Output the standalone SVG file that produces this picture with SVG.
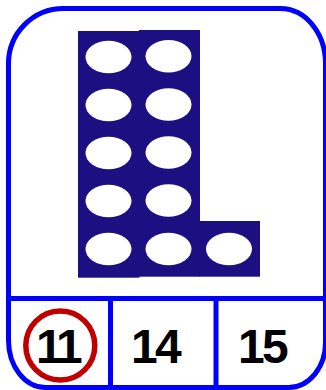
<svg xmlns="http://www.w3.org/2000/svg" width="326" height="390" viewBox="0 0 326 390">
<style>
.frame{fill:none;stroke:#0000ff;stroke-width:5}
.blk{fill:#1b0f82}
.hole{fill:#ffffff}
.num{font-family:"Liberation Sans",Arial,sans-serif;font-weight:bold;font-size:48px;fill:#000000}
</style>
<rect width="326" height="390" fill="#ffffff"/>
<g id="frame">
<path class="frame" d="M8.5,63.5 A55,55 0 0 1 63.5,8.5 L280.5,8.5 A45,55 0 0 1 325.5,63.5 L325.5,342.5 A37,45 0 0 1 288.5,387.5 L45.5,387.5 A37,47 0 0 1 8.5,340.5 Z"/>
<line class="frame" x1="8.5" y1="298.5" x2="325.5" y2="298.5"/>
<line class="frame" x1="110.5" y1="298.5" x2="110.5" y2="388"/>
<line class="frame" x1="216" y1="298.5" x2="216" y2="388"/>
</g>
<g id="blocks">
<rect class="blk" x="78" y="31" width="61.5" height="246.7"/>
<rect class="blk" x="139" y="30" width="61" height="246.7"/>
<rect class="blk" x="199.5" y="221" width="60.5" height="55.7"/>
<ellipse class="hole" cx="108.5" cy="57" rx="23" ry="16.3"/>
<ellipse class="hole" cx="168.5" cy="56.3" rx="23" ry="16.3"/>
<ellipse class="hole" cx="108.5" cy="105" rx="23" ry="16.3"/>
<ellipse class="hole" cx="168.5" cy="104.5" rx="23" ry="16.3"/>
<ellipse class="hole" cx="108.5" cy="153" rx="23" ry="16.3"/>
<ellipse class="hole" cx="168.5" cy="152.5" rx="23" ry="16.3"/>
<ellipse class="hole" cx="108.5" cy="201" rx="23" ry="16.3"/>
<ellipse class="hole" cx="168.5" cy="200.5" rx="23" ry="16.3"/>
<ellipse class="hole" cx="108.5" cy="249" rx="23" ry="16.3"/>
<ellipse class="hole" cx="168.5" cy="249" rx="23" ry="16.3"/>
<ellipse class="hole" cx="229" cy="249" rx="23" ry="16.3"/>
</g>
<g id="opt11">
<circle cx="60.3" cy="345.5" r="34.5" fill="none" stroke="#c00000" stroke-width="5.5"/>
<text class="num" x="36 56" y="363">11</text>
</g>
<g id="opt14">
<text class="num" x="131 155" y="363">14</text>
</g>
<g id="opt15">
<text class="num" x="238 262" y="363">15</text>
</g>
</svg>
